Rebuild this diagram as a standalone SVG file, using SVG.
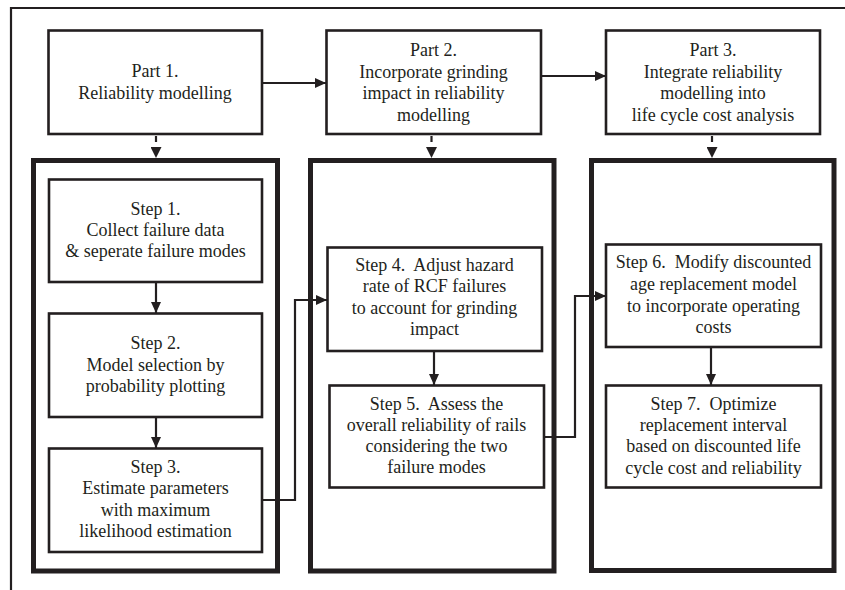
<svg xmlns="http://www.w3.org/2000/svg" width="845" height="590" viewBox="0 0 845 590">
<style>
  .frame{fill:none;stroke:#231f20;stroke-width:2.2}
  .box{fill:#fff;stroke:#231f20;stroke-width:2.6}
  .cont{fill:none;stroke:#231f20;stroke-width:5}
  .t{font-family:"Liberation Serif","Times New Roman",serif;font-size:18px;fill:#231f20;text-anchor:middle}
  .c{fill:none;stroke:#231f20;stroke-width:2.2}
  .d{fill:none;stroke:#231f20;stroke-width:2.2;stroke-dasharray:6 30}
</style>
<defs>
  <marker id="ah" markerWidth="11" markerHeight="10" refX="11" refY="5" orient="auto" markerUnits="userSpaceOnUse">
    <path d="M0,0 L11,5 L0,10 Z" fill="#231f20"/>
  </marker>
  <marker id="ahd" markerWidth="11" markerHeight="11" refX="0" refY="5.5" orient="auto" markerUnits="userSpaceOnUse">
    <path d="M0,0 L11,5.5 L0,11 Z" fill="#231f20"/>
  </marker>
</defs>
<rect width="845" height="590" fill="#fff"/>
<path class="frame" d="M11,590 V8 H845"/>

<g id="container1"><rect class="cont" x="33.5" y="160.5" width="244" height="410.5"/></g>
<g id="container2"><rect class="cont" x="310.5" y="160.5" width="243.5" height="410.5"/></g>
<g id="container3"><rect class="cont" x="591.5" y="160.5" width="242.5" height="410"/></g>

<g id="connectors">
  <path class="c" d="M262,83 H326" marker-end="url(#ah)"/>
  <path class="c" d="M541,76 H606" marker-end="url(#ah)"/>
  <path class="d" d="M156,136 V147" marker-end="url(#ahd)"/>
  <path class="d" d="M431.5,136 V147" marker-end="url(#ahd)"/>
  <path class="d" d="M712,136 V147" marker-end="url(#ahd)"/>
  <path class="c" d="M156,282 V313" marker-end="url(#ah)"/>
  <path class="c" d="M156,417 V448" marker-end="url(#ah)"/>
  <path class="c" d="M434,351 V385" marker-end="url(#ah)"/>
  <path class="c" d="M711,347 V385" marker-end="url(#ah)"/>
  <path class="c" d="M262,500 H295 V300 H327" marker-end="url(#ah)"/>
  <path class="c" d="M544,437 H575 V296 H606" marker-end="url(#ah)"/>
</g>

<g id="part1">
  <rect class="box" x="48.5" y="30.5" width="213.5" height="103.5"/>
  <text class="t" x="155" y="77">Part 1.</text>
  <text class="t" x="155" y="99">Reliability modelling</text>
</g>
<g id="part2">
  <rect class="box" x="326.5" y="30.5" width="214.5" height="103.5"/>
  <text class="t" x="433.5" y="56">Part 2.</text>
  <text class="t" x="433.5" y="77.5">Incorporate grinding</text>
  <text class="t" x="433.5" y="99">impact in reliability</text>
  <text class="t" x="433.5" y="120.5">modelling</text>
</g>
<g id="part3">
  <rect class="box" x="606" y="30.5" width="214" height="103.5"/>
  <text class="t" x="713" y="56">Part 3.</text>
  <text class="t" x="713" y="77.5">Integrate reliability</text>
  <text class="t" x="713" y="99">modelling into</text>
  <text class="t" x="713" y="120.5">life cycle cost analysis</text>
</g>

<g id="step1">
  <rect class="box" x="49" y="179.5" width="213" height="102.5"/>
  <text class="t" x="155.5" y="215">Step 1.</text>
  <text class="t" x="155.5" y="236">Collect failure data</text>
  <text class="t" x="155.5" y="257">&amp; seperate failure modes</text>
</g>
<g id="step2">
  <rect class="box" x="49" y="313.5" width="213" height="103.5"/>
  <text class="t" x="155.5" y="349">Step 2.</text>
  <text class="t" x="155.5" y="370.5">Model selection by</text>
  <text class="t" x="155.5" y="392">probability plotting</text>
</g>
<g id="step3">
  <rect class="box" x="49" y="448.5" width="213" height="103.5"/>
  <text class="t" x="155.5" y="473">Step 3.</text>
  <text class="t" x="155.5" y="494">Estimate parameters</text>
  <text class="t" x="155.5" y="516">with maximum</text>
  <text class="t" x="155.5" y="537">likelihood estimation</text>
</g>
<g id="step4">
  <rect class="box" x="327.5" y="247.5" width="214.5" height="103.5"/>
  <text class="t" x="434.5" y="271">Step 4.&#160; Adjust hazard</text>
  <text class="t" x="434.5" y="292">rate of RCF failures</text>
  <text class="t" x="434.5" y="314">to account for grinding</text>
  <text class="t" x="434.5" y="335">impact</text>
</g>
<g id="step5">
  <rect class="box" x="329.5" y="385.5" width="214.5" height="102"/>
  <text class="t" x="436.5" y="410">Step 5.&#160; Assess the</text>
  <text class="t" x="436.5" y="431">overall reliability of rails</text>
  <text class="t" x="436.5" y="452">considering the two</text>
  <text class="t" x="436.5" y="473">failure modes</text>
</g>
<g id="step6">
  <rect class="box" x="606" y="244.5" width="215" height="102.5"/>
  <text class="t" x="713.5" y="268">Step 6.&#160; Modify discounted</text>
  <text class="t" x="713.5" y="290">age replacement model</text>
  <text class="t" x="713.5" y="311.5">to incorporate operating</text>
  <text class="t" x="713.5" y="333">costs</text>
</g>
<g id="step7">
  <rect class="box" x="606" y="385.5" width="215" height="102"/>
  <text class="t" x="713.5" y="410">Step 7.&#160; Optimize</text>
  <text class="t" x="713.5" y="431">replacement interval</text>
  <text class="t" x="713.5" y="452">based on discounted life</text>
  <text class="t" x="713.5" y="474">cycle cost and reliability</text>
</g>
</svg>
